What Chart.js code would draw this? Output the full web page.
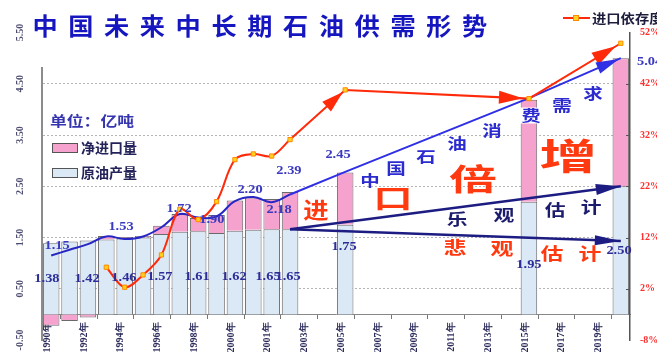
<!DOCTYPE html>
<html><head><meta charset="utf-8">
<script src="https://cdn.jsdelivr.net/npm/chart.js@4/dist/chart.umd.min.js"></script>
<style>html,body{margin:0;padding:0;background:#fff;overflow:hidden}#wrap{width:657px;height:356px}</style>
</head><body><div id="wrap"><canvas id="c" width="657" height="356"></canvas></div>
<script>
const _ = null;
// x categories (label shown on every other category)
const tickLabels = ['1990年','','1992年','','1994年','','1996年','','1998年','','2000年','','2001年','','2003年','','2005年','','2007年','','2009年','','2011年','','2013年','','2015年','','2017年','','2019年',''];
// 原油产量 (亿吨)
const production = [1.39,1.42,1.44,1.46,1.48,1.50,1.57,1.61,1.62,1.59,1.63,1.65,1.66,1.66,_,_,1.75,_,_,_,_,_,_,_,_,_,2.20,_,_,_,_,2.50];
// 净进口量 (亿吨)
const netImport = [-0.22,-0.13,-0.06,0.07,0.03,0.03,0.16,0.35,0.26,0.35,0.59,0.63,0.59,0.73,_,_,1.02,_,_,_,_,_,_,_,_,_,1.99,_,_,_,_,2.50];
// 石油消费量 (亿吨)
const consumption = [1.15,1.26,1.37,1.52,1.47,1.52,1.70,1.96,1.89,1.91,2.21,2.29,2.19,2.34,_,_,_,_,_,_,_,_,_,_,_,_,_,_,_,_,_,_];
const consumptionOutlook = [_,_,_,_,_,_,_,_,_,_,_,_,_,2.34,_,_,2.78,_,_,_,_,_,_,_,_,_,4.22,_,_,_,_,5.00];
// 进口依存度 (%)
const dependency = [_,_,_,6.2,2.3,4.7,8.6,17.5,15.5,19.0,27.2,28.3,27.9,31.1,_,_,_,_,_,_,_,_,_,_,_,_,_,_,_,_,_,_];
const dependencyOutlook = [_,_,_,_,_,_,_,_,_,_,_,_,_,31.1,_,_,40.8,_,_,_,_,_,_,_,_,_,39.1,_,_,_,_,49.9];
// 产量 乐观 / 悲观 估计
const optimistic = [_,_,_,_,_,_,_,_,_,_,_,_,_,1.66,_,_,_,_,_,_,_,_,_,_,_,_,_,_,_,_,_,2.50];
const pessimistic = [_,_,_,_,_,_,_,_,_,_,_,_,_,1.66,_,_,_,_,_,_,_,_,_,_,_,_,_,_,_,_,_,1.43];
// value labels as printed
const consumptionLabels = ['1.15','1.53','1.72','1.90','2.20','2.18','2.39','2.45'];
const productionLabels = ['1.38','1.42','1.46','1.57','1.61','1.62','1.65','1.65','1.75','1.95','2.50'];
const totalLabel2020 = '5.04';
const leftTicks = [-0.5,0.5,1.5,2.5,3.5,4.5,5.5];
const rightTicks = [-8,2,12,22,32,42,52];
const titleText = '中国未来中长期石油供需形势';

const CJK = "'Noto Sans CJK SC'";
const SER = "'Liberation Serif'";

function drawText(c, s, x, y, font, color, sx, align) {
  c.save(); c.translate(x, y); c.scale(sx || 1, 1);
  c.font = font; c.fillStyle = color; c.textAlign = align || 'center'; c.textBaseline = 'middle';
  c.fillText(s, 0, 0); c.restore();
}
function arrowHead(c, x0, y0, x1, y1, len, wid, back, color) {
  const dx = x1 - x0, dy = y1 - y0, d = Math.hypot(dx, dy), ux = dx / d, uy = dy / d;
  const tx = x1 - ux * back, ty = y1 - uy * back;
  const bx = tx - ux * len, by = ty - uy * len;
  c.save(); c.fillStyle = color; c.beginPath();
  c.moveTo(tx, ty); c.lineTo(bx - uy * wid / 2, by + ux * wid / 2); c.lineTo(bx + uy * wid / 2, by - ux * wid / 2);
  c.closePath(); c.fill(); c.restore();
}

const deco = {
  id: 'deco',
  beforeDraw(chart) { const c = chart.ctx; c.save(); c.fillStyle = '#fff'; c.fillRect(0, 0, chart.width, chart.height); c.restore(); },
  afterDatasetsDraw(chart) {
    const c = chart.ctx, xs = chart.scales.x, ys = chart.scales.y;
    const X = i => xs.getPixelForValue(i), Y = v => ys.getPixelForValue(v);
    const pt = (ds, i) => chart.getDatasetMeta(ds).data[i];
    const head = (ds, a, b, len, wid, back, color) => { const p = pt(ds, a), q = pt(ds, b); arrowHead(c, p.x, p.y, q.x, q.y, len, wid, back, color); };
    head(1, 13, 16, 22, 13, 3, '#ff2a0a');
    head(1, 16, 26, 24, 13, 6, '#ff2a0a');
    head(1, 26, 31, 24, 14, 6, '#ff2a0a');
    head(3, 26, 31, 23, 12, 2, '#2f2fe6');
    head(4, 13, 31, 25, 11, 0, '#1c1c82');
    head(5, 13, 31, 26, 10, 0, '#1c1c82');

    // 中国石油消费需求
    const blue = [['中',17.35,2.62],['国',18.77,2.85],['石',20.40,3.08],['油',22.09,3.34],['消',23.99,3.59],['费',26.11,3.88],['需',27.80,4.07],['求',29.49,4.31]];
    blue.forEach(([s, i, v]) => {
      if (s === '费') { c.save(); c.fillStyle = '#fff'; c.fillRect(X(i) - 12, Y(v) - 8, 24, 16); c.restore(); }
      drawText(c, s, X(i), Y(v), `bold 15px ${CJK}`, '#2b2bd0', 1.3);
    });
    const opt = [['乐',22.09,1.86],['观',24.64,1.94],['估',27.42,2.03],['计',29.38,2.09]];
    opt.forEach(([s, i, v]) => drawText(c, s, X(i), Y(v), `bold 16px ${CJK}`, '#1c1c6e', 1.3));
    const pes = [['悲',21.98,1.30],['观',24.53,1.28],['估',27.26,1.18],['计',29.32,1.18]];
    pes.forEach(([s, i, v]) => drawText(c, s, X(i), Y(v), `bold 17px ${CJK}`, '#ff3a10', 1.35));
    const big = [['进',14.41,2.05,22,1.15],['口',18.60,2.27,26,1.5],['倍',22.96,2.64,30,1.6],['增',28.13,3.08,36,1.6]];
    big.forEach(([s, i, v, f, sx]) => drawText(c, s, X(i), Y(v), `bold ${f}px ${CJK}`, '#ff3a10', sx));

    // value labels
    const consPos = [[0.32,1.335],[3.80,1.70],[6.96,2.05],[8.74,1.84],[10.82,2.42],[12.40,2.03],[12.94,2.79],[15.61,3.12]];
    consumptionLabels.forEach((s, k) => drawText(c, s, X(consPos[k][0]), Y(consPos[k][1]), `bold 12px ${SER}`, '#3a3ac0', 1.2));
    const prodPos = [[-0.23,0.69],[1.95,0.69],[3.96,0.71],[5.92,0.73],[7.94,0.73],[9.95,0.73],[11.80,0.73],[12.89,0.73],[15.94,1.31],[26.0,0.96],[30.9,1.24]];
    productionLabels.forEach((s, k) => drawText(c, s, X(prodPos[k][0]), Y(prodPos[k][1]), `bold 12px ${SER}`, '#2d2d9a', 1.2));
    drawText(c, totalLabel2020, X(31.88), Y(4.93), `bold 12px ${SER}`, '#3a3ac0', 1.2, 'left');
  },
  afterDraw(chart) {
    const c = chart.ctx, ys = chart.scales.y, y1 = chart.scales.y1, area = chart.chartArea;
    // title box
    c.save(); c.fillStyle = '#fff'; c.fillRect(30, 0, 466, 67); c.restore();
    [...titleText].forEach((ch, k) => drawText(c, ch, 45 + k * 35.8, 26, `bold 24px ${CJK}`, '#1616c0', 1.05));
    // left axis labels (rotated)
    leftTicks.forEach(v => {
      c.save(); c.translate(20, ys.getPixelForValue(v)); c.rotate(-Math.PI / 2);
      c.font = `bold 10px ${SER}`; c.fillStyle = '#4d4d72'; c.textAlign = 'center'; c.textBaseline = 'middle';
      c.fillText(v.toFixed(2), 0, 0); c.restore();
    });
    // right axis inner ticks
    c.save(); c.strokeStyle = '#555'; c.lineWidth = 1;
    rightTicks.slice(1, -1).forEach(v => { const y = Math.round(y1.getPixelForValue(v)) + 0.5; c.beginPath(); c.moveTo(area.right - 4, y); c.lineTo(area.right, y); c.stroke(); });
    c.restore();
    // legend: 进口依存度
    c.save(); c.strokeStyle = '#ff2a0a'; c.lineWidth = 2; c.beginPath(); c.moveTo(563, 18); c.lineTo(590, 18); c.stroke();
    c.fillStyle = '#ffd21f'; c.strokeStyle = '#ff8a00'; c.lineWidth = 1; c.fillRect(573, 15, 6, 6); c.strokeRect(573.5, 15.5, 5, 5); c.restore();
    drawText(c, '进口依存度', 592, 18, `bold 13px ${CJK}`, '#1c1c3c', 1.1, 'left');
    // legend: bars
    c.save(); c.lineWidth = 1; c.strokeStyle = '#555';
    c.fillStyle = '#f6a2cf'; c.fillRect(52, 143, 25, 9); c.strokeRect(52.5, 143.5, 25, 9);
    c.fillStyle = '#dbe8f5'; c.fillRect(52, 168, 25, 9); c.strokeRect(52.5, 168.5, 25, 9); c.restore();
    drawText(c, '净进口量', 81, 148, `bold 14px ${CJK}`, '#23235a', 1.0, 'left');
    drawText(c, '原油产量', 81, 173, `bold 14px ${CJK}`, '#23235a', 1.0, 'left');
    drawText(c, '单位：亿吨', 50, 121, `bold 14px ${CJK}`, '#3535b0', 1.2, 'left');
  }
};

new Chart(document.getElementById('c'), {
  data: {
    labels: tickLabels,
    datasets: [
      { type: 'line', label: '进口依存度', data: dependency, yAxisID: 'y1', stack: 'dep', order: 0,
        borderColor: '#ff2a0a', borderWidth: 2, tension: 0.35, pointStyle: 'rect', pointRadius: 3,
        pointBackgroundColor: '#ffd21f', pointBorderColor: '#ff8a00', pointBorderWidth: 1 },
      { type: 'line', label: '进口依存度预测', data: dependencyOutlook, yAxisID: 'y1', stack: 'dep2', order: 0, spanGaps: true,
        borderColor: '#ff2a0a', borderWidth: 2, tension: 0, pointStyle: 'rect', pointRadius: c => c.dataIndex === 13 ? 0 : 3,
        pointBackgroundColor: '#ffd21f', pointBorderColor: '#ff8a00', pointBorderWidth: 1 },
      { type: 'line', label: '消费量', data: consumption, yAxisID: 'y', stack: 'cons', order: 1,
        borderColor: '#2626c4', borderWidth: 2, tension: 0.4, pointRadius: 0 },
      { type: 'line', label: '消费需求', data: consumptionOutlook, yAxisID: 'y', stack: 'cons2', order: 1, spanGaps: true,
        borderColor: '#2f2fe6', borderWidth: 2, tension: 0, pointRadius: 0 },
      { type: 'line', label: '乐观估计', data: optimistic, yAxisID: 'y', stack: 'opt', order: 1, spanGaps: true,
        borderColor: '#1c1c82', borderWidth: 2.5, tension: 0, pointRadius: 0 },
      { type: 'line', label: '悲观估计', data: pessimistic, yAxisID: 'y', stack: 'pes', order: 1, spanGaps: true,
        borderColor: '#1c1c82', borderWidth: 2.5, tension: 0, pointRadius: 0 },
      { type: 'bar', label: '原油产量', data: production, yAxisID: 'y', stack: 's', order: 2,
        backgroundColor: '#dbe8f5', borderColor: '#6a6a6a', borderWidth: 1, categoryPercentage: 0.9, barPercentage: 1 },
      { type: 'bar', label: '净进口量', data: netImport, yAxisID: 'y', stack: 's', order: 2,
        backgroundColor: '#f6a2cf', borderColor: '#6a6a6a', borderWidth: 1, categoryPercentage: 0.9, barPercentage: 1 }
    ]
  },
  options: {
    responsive: false, animation: false, devicePixelRatio: 1,
    layout: { padding: { top: 32.5, bottom: 14.5, left: 0, right: 0 } },
    plugins: { legend: { display: false }, tooltip: { enabled: false }, title: { display: false } },
    scales: {
      x: { type: 'category', offset: true, stacked: true, position: { y: 0 },
        grid: { display: true, drawOnChartArea: false, drawTicks: true, tickLength: 4, offset: true,
          color: c => (c.index % 2 === 1 ? '#777' : 'rgba(0,0,0,0)') },
        border: { display: true, color: '#888', width: 1 },
        ticks: { autoSkip: false, minRotation: 90, maxRotation: 90, padding: 4, labelOffset: -4, color: '#2c2c5c',
          font: { size: 10, weight: 'bold', family: SER }, callback: (v, i) => tickLabels[i] } },
      y: { position: 'left', min: -0.5, max: 5.5, stacked: true,
        afterBuildTicks: s => { s.ticks = leftTicks.map(v => ({ value: v })); },
        afterFit: s => { s.width = 42; },
        grid: { drawTicks: false, lineWidth: 1, color: c => (c.tick && c.tick.value > 0 && c.tick.value < 5 ? '#b5b5b5' : 'rgba(0,0,0,0)') },
        border: { display: true, color: '#8c8c8c', width: 2, dash: [2, 2] },
        ticks: { display: false } },
      y1: { position: 'right', min: -8, max: 52, stacked: false,
        afterBuildTicks: s => { s.ticks = rightTicks.map(v => ({ value: v })); },
        afterFit: s => { s.width = 27; },
        grid: { drawOnChartArea: false, drawTicks: false },
        border: { display: true, color: '#555', width: 1.5 },
        ticks: { padding: 10, color: '#ff3030', font: { size: 10, weight: 'bold', family: SER }, crossAlign: 'near', callback: v => v + '%' } }
    }
  },
  plugins: [deco]
});
</script></body></html>
